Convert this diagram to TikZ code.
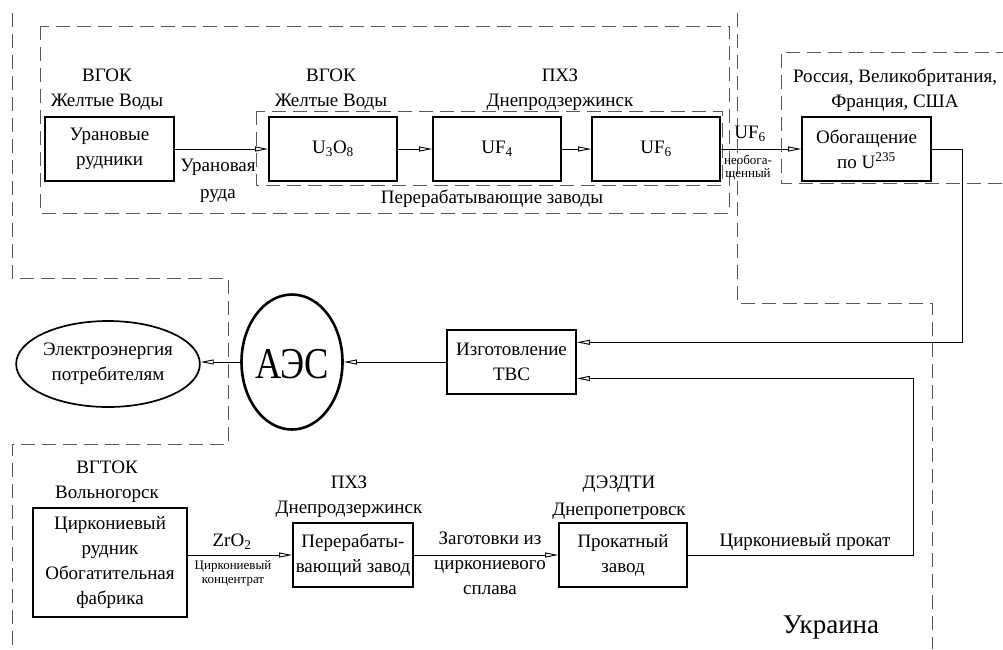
\documentclass[tikz,border=0pt]{standalone}
\usepackage{fontspec}
\setmainfont{Liberation Serif}
\usetikzlibrary{shapes.geometric,arrows.meta,calc}
\begin{document}
\begin{tikzpicture}[x=1pt,y=-1pt,
  every node/.style={font=\fontsize{19}{25}\selectfont},
  box/.style={draw,line width=1.7pt,align=center,inner sep=0pt,minimum width=128,minimum height=64},
  lbl/.style={align=center,inner sep=0pt},
  small/.style={align=center,inner sep=0pt,font=\fontsize{13}{13}\selectfont},
  dsh/.style={draw=black!65,line width=0.9pt,dash pattern=on 14pt off 7pt},
  arr/.style={line width=0.9pt,-{Triangle[open,length=13pt,width=5pt]}}]
\useasboundingbox (0,0) rectangle (1003,649);
% boundary dashed lines
\draw[dsh] (12,13) -- (12,278) -- (228,278) -- (228,444) -- (12,444) -- (12,649);
\draw[dsh] (737,13) -- (737,303) -- (932,303) -- (932,649);
\draw[dsh] (40,26) rectangle (729,213);
\draw[dsh] (256,111) rectangle (722,185);
\draw[dsh] (1010,52) -- (781,52) -- (781,183) -- (1010,183);
% top row boxes
\node[box,minimum width=129] (ur) at (109.5,149) {Урановые\\рудники};
\node[box] (u3o8) at (333,149) {U\textsubscript{3}O\textsubscript{8}};
\node[box] (uf4) at (497,149) {UF\textsubscript{4}};
\node[box] (uf6) at (656,149) {UF\textsubscript{6}};
\node[box,minimum width=129] (enr) at (866.5,149) {Обогащение\\по U\textsuperscript{235}};
% labels top
\node[lbl] (l1) at (107,90) {ВГОК\\Желтые Воды};
\node[lbl] (l2) at (331,90) {ВГОК\\Желтые Воды};
\node[lbl] (l3) at (560,90) {ПХЗ\\Днепродзержинск};
\node[lbl] (l4) at (895,90) {Россия, Великобритания,\\Франция, США};
\node[lbl,font=\fontsize{19}{27}\selectfont] (l5) at (218,181) {Урановая\\руда};
\node[lbl] (l6) at (492,199) {Перерабатывающие заводы};
\node[lbl] (l7) at (750,134) {UF\textsubscript{6}};
\node[small] (l8) at (748,168) {необога-\\щенный};
% middle
\node[box,minimum width=129] (tvs) at (511.5,362) {Изготовление\\ТВС};
\node[draw,ellipse,line width=2.6pt,minimum width=101,minimum height=135,inner sep=0pt] (aes) at (292,362) {};
\node[inner sep=0pt,font=\fontsize{44}{44}\selectfont,xscale=0.83] (aest) at (292,364) {АЭС};
\node[draw,ellipse,line width=1.7pt,minimum width=167,minimum height=86,inner sep=0pt,align=center] (elec) at (108,364) {Электроэнергия\\потребителям};
\coordinate (tvsA) at ($(tvs.north east)!0.2!(tvs.south east)$);
\coordinate (tvsB) at ($(tvs.north east)!0.75!(tvs.south east)$);
% bottom
\node[box,minimum width=154,minimum height=109] (zr) at (110,562.5) {Циркониевый\\рудник\\Обогатительная\\фабрика};
\node[box,minimum width=120] (pz) at (353,555) {Перерабаты-\\вающий завод};
\node[box] (pk) at (623,555) {Прокатный\\завод};
\node[lbl] (b1) at (107,482) {ВГТОК\\Вольногорск};
\node[lbl] (b2) at (349,497) {ПХЗ\\Днепродзержинск};
\node[lbl,font=\fontsize{19}{27}\selectfont] (b3) at (619,498) {ДЭЗДТИ\\Днепропетровск};
\node[lbl] (b4) at (232,542) {ZrO\textsubscript{2}};
\node[small,font=\fontsize{13}{14}\selectfont] (b5) at (233,573) {Циркониевый\\концентрат};
\node[lbl] (b6) at (490,563) {Заготовки из\\циркониевого\\сплава};
\node[lbl] (b7) at (805,542) {Циркониевый прокат};
\node[lbl,font=\fontsize{27}{30}\selectfont] (b8) at (831,628) {Украина};
% connectors
\draw[arr] (ur.east) -- (u3o8.west);
\draw[arr] (u3o8.east) -- (uf4.west);
\draw[arr] (uf4.east) -- (uf6.west);
\draw[arr] (uf6.east) -- (enr.west);
\draw[arr] (enr.east) -- ++(31,0) |- (tvsA);
\draw[arr] (pk.east) -- ++(226,0) |- (tvsB);
\draw[arr] (tvs.west) -- (aes.east);
\draw[arr] (aes.west) -- (aes.west -| elec.east);
\draw[arr] (pz.west -| zr.east) -- (pz.west);
\draw[arr] (pz.east) -- (pk.west);
\end{tikzpicture}
\end{document}
